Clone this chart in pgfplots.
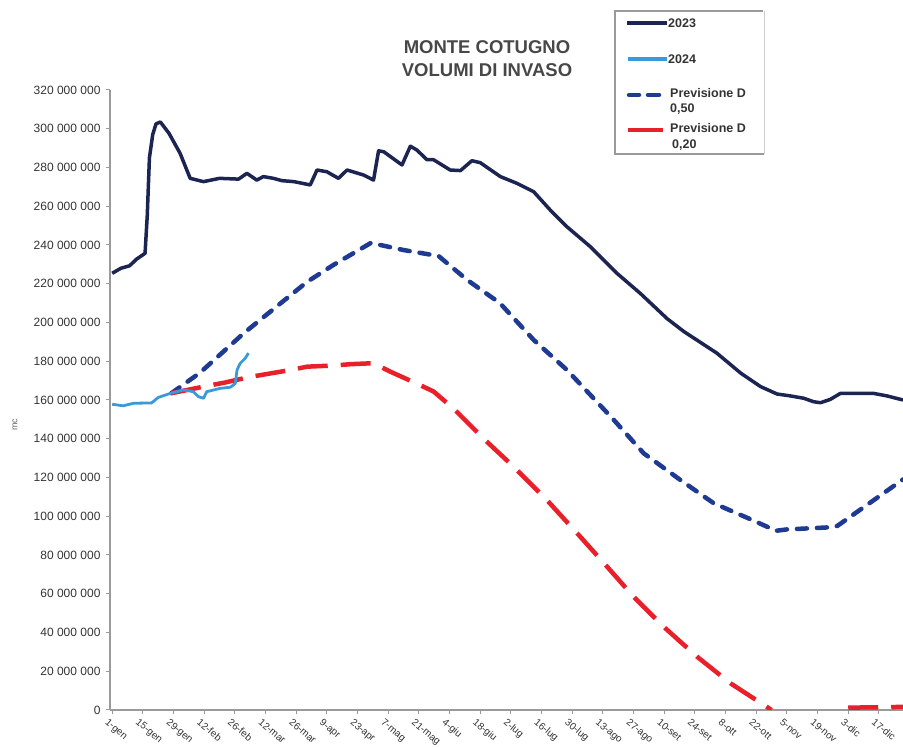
\documentclass[border=0pt]{standalone}
\usepackage{pgfplots}
\pgfplotsset{compat=1.18}
\usepackage{fontspec}
\setmainfont{Liberation Sans}
\definecolor{navy}{HTML}{1C2452}
\definecolor{lblue}{HTML}{3A9AD9}
\definecolor{pblue}{HTML}{1F3A93}
\definecolor{pred}{HTML}{E8202A}
\definecolor{txt}{HTML}{333333}
\definecolor{axc}{HTML}{9A9A9A}
\newcommand\ytickfont{\fontsize{12}{14}\selectfont}
\newcommand\xtickfont{\fontsize{10}{12}\selectfont}
\newcommand\legfont{\bfseries\fontsize{12.5}{14}\selectfont}
\newcommand\titfont{\bfseries\fontsize{18.5}{20}\selectfont}
\begin{document}
\begin{tikzpicture}[x=1pt,y=1pt]
\begin{axis}[
  scale only axis, width=793pt, height=620pt,
  at={(110pt,37pt)}, anchor=south west,
  xmin=0, xmax=362, ymin=0, ymax=320,
  axis x line=bottom, axis y line=left,
  axis line style={axc, line width=1.5pt, -},
  xtick={1,15,29,43,57,71,85,99,113,127,141,155,169,183,197,211,225,239,253,267,281,295,309,323,337,351},
  xticklabels={1-gen,15-gen,29-gen,12-feb,26-feb,12-mar,26-mar,9-apr,23-apr,7-mag,21-mag,4-giu,18-giu,2-lug,16-lug,30-lug,13-ago,27-ago,10-set,24-set,8-ott,22-ott,5-nov,19-nov,3-dic,17-dic},
  ytick={0,20,...,320},
  yticklabels={0,20 000 000,40 000 000,60 000 000,80 000 000,100 000 000,120 000 000,140 000 000,160 000 000,180 000 000,200 000 000,220 000 000,240 000 000,260 000 000,280 000 000,300 000 000,320 000 000},
  tick style={axc, line width=1pt},
  major tick length=4pt,
  tick align=outside,
  every x tick label/.append style={rotate=-40, anchor=north west, font=\xtickfont, text=txt, inner sep=0pt, yshift=-5pt},
  every y tick label/.append style={font=\ytickfont, text=txt, xshift=-2pt},
  unbounded coords=jump,
]
\addplot[navy, line width=3.5pt, line join=round] coordinates {
(1,225.4)(5,228)(9,229.3)(12,232.6)(16,235.7)(17,255)(18,285)(19.5,297)(21,302.5)(23,303.5)(27,297.5)(32,287.3)(36.6,274.4)(42.7,272.7)(50,274.4)(58.7,274)(62.5,277)(67,273.5)(70,275.3)(74.6,274.4)(78.5,273.2)(84,272.7)(91.4,271)(94.5,278.7)(99,277.8)(104.3,274.4)(108.2,278.7)(115.8,276.1)(120.3,273.5)(122.6,288.6)(125,288.1)(133.3,281.3)(137.1,291)(140.1,289)(144.7,284)(147.7,284)(155.3,278.7)(160,278.4)(165.2,283.5)(169,282.5)(178.2,275.3)(185.8,271.8)(193.4,267.5)(201,258)(208.6,249.4)(219.3,239.1)(231.4,225.4)(242.1,215)(254.3,202)(262,195.3)(277,184.2)(288,173.8)(297,166.9)(304.5,163.1)(310.6,162.1)(316.7,160.9)(321.2,159.1)(324.3,158.6)(328.8,160.3)(333.4,163.4)(341,163.4)(348.6,163.4)(354.7,162.1)(362,160)
};
\addplot[pblue, line width=4.5pt, line cap=round, dash pattern=on 10pt off 10pt] coordinates {
(28,163.5)(41,174)(61,194.4)(76,208.2)(90,221)(102,229.7)(119,241)(123.4,240)(134,237.4)(150,234.3)(163,222)(178,210)(193.4,191)(208.6,175.5)(230,149.7)(243.6,132.5)(260.4,118.7)(275.6,106.7)(292.3,98.5)(304,92.5)(309,93.2)(327,94.2)(332,95)(362,119)
};
\addplot[pred, line width=4.5pt, dash pattern=on 30pt off 13pt] coordinates {
(28,163.5)(44,167.2)(52,168.9)(63,171.7)(69,172.9)(82.5,175.5)(90,177.2)(102,177.8)(110,178.5)(120.3,179)(123.4,177.2)(128,174.6)(140,168.5)(147.7,164.4)(156.8,155.6)(170.5,140.1)(184.2,125.6)(199.4,108.4)(214.7,89.4)(226.9,74)(239,58.5)(252.7,43)(268,27.5)(283.2,13.8)(302,0)(320,nan)(337,1.2)(362,1.6)
};
\addplot[lblue, line width=2.8pt, line join=round] coordinates {
(1,157.8)(6,157)(10.7,158.3)(19,158.5)(22,161.3)(27.5,163.4)(33.6,165.2)(38,164.3)(40.4,161.7)(42.7,160.9)(44.2,164.3)(50.3,166)(55,166.6)(57.2,168.6)(58,175.5)(59.4,178.9)(61.7,181.5)(63.2,184.2)
};
\end{axis}
% title
\node[font=\titfont, text=black!72] at (487pt,700pt) {MONTE COTUGNO};
\node[font=\titfont, text=black!72] at (487pt,677pt) {VOLUMI DI INVASO};
% y label
\node[rotate=90, font=\fontsize{9}{10}\selectfont, text=black!60] at (15pt,322pt) {mc};
% legend
\draw[axc, line width=1.2pt] (763pt,736pt) -- (615pt,736pt) -- (615pt,593pt) -- (764pt,593pt);
\draw[axc!50, line width=0.8pt] (764pt,736pt) -- (764pt,593pt);
\draw[navy, line width=4.5pt] (627pt,724pt) -- (667pt,724pt);
\draw[lblue, line width=3.8pt] (628pt,688pt) -- (667pt,688pt);
\draw[pblue, line width=4.5pt, line cap=round] (629pt,652pt) -- (639pt,652pt);
\draw[pblue, line width=4.5pt, line cap=round] (648pt,652pt) -- (659pt,652pt);
\draw[pred, line width=4.5pt] (628pt,617pt) -- (663pt,617pt);
\begin{scope}[every node/.style={anchor=base west, inner sep=0pt, font=\legfont, text=txt}]
\node at (668pt,719.5pt) {2023};
\node at (668pt,683.5pt) {2024};
\node at (670pt,649.5pt) {Previsione D};
\node at (670pt,634.5pt) {0,50};
\node at (670pt,614.5pt) {Previsione D};
\node at (672pt,598.5pt) {0,20};
\end{scope}
\pgfresetboundingbox
\useasboundingbox (0,0) rectangle (903pt,747pt);
\end{tikzpicture}
\end{document}
